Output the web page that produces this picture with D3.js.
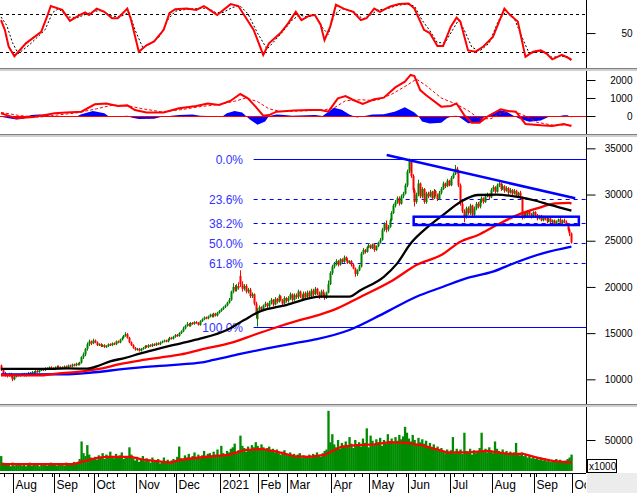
<!DOCTYPE html>
<html>
<head>
<meta charset="utf-8">
<script src="https://cdn.jsdelivr.net/npm/d3@7.9.0/dist/d3.min.js"></script>
<style>
  body { margin: 0; background: #fff; }
  svg { display: block; }
</style>
</head>
<body>
<svg id="chart" width="637" height="493"></svg>
<script>
// trading calendar (HOSE), first bar 23 Jul 2020
const startDate = '2020-07-23';
const holidays = ['2020-09-02', '2021-01-01', '2021-02-10', '2021-02-11', '2021-02-12', '2021-02-15',
  '2021-02-16', '2021-04-21', '2021-04-30', '2021-05-03', '2021-09-02', '2021-09-03'];
const monthNames = ['Jan', 'Feb', 'Mar', 'Apr', 'May', 'Jun', 'Jul', 'Aug', 'Sep', 'Oct', 'Nov', 'Dec'];

// daily candles, price in hundreds
const opens = [
  115,110,106,105,104,106,103,100,103,105, 104,105,106,104,106,107,106,108,107,109,
  108,110,111,110,112,111,113,112,111,113, 114,112,113,112,114,113,115,114,116,115,
  117,116,118,124,127,133,138,141,139,142, 140,137,138,136,137,135,136,138,137,139,
  138,141,140,143,145,147,149,145,140,137, 134,132,133,131,133,134,136,135,137,136,
  138,137,139,138,140,141,142,141,143,145, 144,146,148,147,150,152,155,158,160,158,
  161,160,162,161,159,163,165,167,166,168, 170,168,171,169,172,174,176,178,180,183,
  186,195,200,197,201,212,203,198,201,195, 197,190,192,182,165,175,178,176,180,182,
  179,183,186,181,187,184,190,186,182,188, 185,188,192,186,191,189,195,190,187,193,
  189,194,190,196,192,198,193,189,195,191, 188,194,203,215,222,225,228,224,230,227,
  232,229,226,228,224,220,214,218,222,236, 240,238,243,245,242,246,240,244,248,251,
  262,268,262,265,272,280,288,292,296,290, 298,301,310,325,336,320,305,292,300,312,
  298,306,292,301,298,303,296,304,300,295, 302,306,312,309,315,310,318,322,328,325,
  310,290,282,276,285,280,288,278,285,290, 287,293,296,292,298,300,297,305,308,303,
  310,312,306,309,304,307,302,305,301,304, 299,302,297,275,280,277,282,279,276,281,
  278,274,277,272,276,273,271,274,270,272, 268,271,273,269,272,270,268,262,258
];
const highs = [
  116,111,108,106,107,107,104,104,106,106, 106,107,107,107,108,108,109,109,110,110,
  111,112,112,113,113,114,114,113,114,115, 115,114,114,115,115,116,116,117,117,118,
  118,119,125,129,134,140,143,142,144,143, 141,139,139,138,138,137,139,139,140,140,
  142,142,144,146,148,151,150,146,141,138, 135,134,134,134,135,137,137,138,138,139,
  139,140,140,141,142,143,143,144,146,146, 147,149,149,151,153,157,159,162,161,162,
  162,163,163,162,164,166,168,168,169,171, 171,172,172,173,175,177,179,181,184,188,
  196,204,202,203,205,218,206,203,203,199, 199,194,193,184,177,180,179,181,184,183,
  185,188,187,189,188,192,191,187,190,189, 190,194,193,193,193,197,196,192,195,195,
  196,196,198,198,200,199,195,197,197,193, 195,207,217,224,227,230,229,231,231,234,
  233,231,229,229,225,221,219,224,238,242, 241,244,247,246,247,247,245,249,253,264,
  270,272,267,274,282,290,294,298,298,300, 303,312,327,339,337,322,307,302,316,313,
  308,307,303,303,305,304,306,305,301,304, 308,314,313,317,316,320,324,332,330,326,
  312,292,284,287,287,290,289,287,292,292, 295,298,297,300,302,301,307,310,309,312,
  314,313,311,310,309,308,307,306,306,305, 303,304,298,281,281,283,283,280,282,282,
  279,278,278,277,277,275,275,275,273,273, 272,274,275,273,274,272,269,264,259
];
const lows = [
  109,105,103,102,103,102,98,99,102,103, 103,104,103,103,105,105,105,106,106,107,
  107,109,109,109,110,110,111,110,110,112, 111,111,111,111,112,112,113,113,114,114,
  115,115,117,122,125,131,136,137,138,139, 136,136,135,135,134,134,135,136,136,137,
  137,139,139,142,144,146,144,139,136,133, 131,131,130,130,132,133,134,134,135,135,
  136,136,137,137,139,140,140,140,142,143, 143,145,146,146,149,151,154,157,157,157,
  159,159,160,158,158,162,164,165,165,167, 167,167,168,168,171,173,175,177,179,182,
  185,193,195,195,197,200,195,196,193,193, 188,188,180,166,157,173,174,175,178,177,
  177,181,179,180,182,183,185,180,181,183, 183,186,184,185,187,187,188,185,186,187,
  187,188,189,190,191,191,187,188,189,186, 187,193,202,213,220,223,222,223,226,226,
  228,225,225,222,219,211,212,217,221,235, 236,237,242,241,241,238,239,243,247,250,
  260,259,260,264,271,279,286,290,288,289, 296,300,308,323,318,302,287,290,298,296,
  296,290,290,296,297,294,295,298,293,294, 300,305,307,308,309,309,317,321,323,308,
  288,280,270,274,278,278,276,276,283,285, 285,291,290,291,297,295,296,303,301,302,
  308,304,305,302,303,300,301,299,300,297, 298,295,273,274,275,276,277,274,275,276,
  272,273,271,271,272,269,270,269,269,267, 267,270,268,268,269,267,260,255,247
];
const closes = [
  110,106,105,104,106,103,100,103,105,104, 105,106,104,106,107,106,108,107,109,108,
  110,111,110,112,111,113,112,111,113,114, 112,113,112,114,113,115,114,116,115,117,
  116,118,124,127,133,138,141,139,142,140, 137,138,136,137,135,136,138,137,139,138,
  141,140,143,145,147,149,145,140,137,134, 132,133,131,133,134,136,135,137,136,138,
  137,139,138,140,141,142,141,143,145,144, 146,148,147,150,152,155,158,160,158,161,
  160,162,161,159,163,165,167,166,168,170, 168,171,169,172,174,176,178,180,183,186,
  195,200,197,201,199,203,198,201,195,197, 190,192,182,172,175,178,176,180,182,179,
  183,186,181,187,184,190,186,182,188,185, 188,192,186,191,189,195,190,187,193,189,
  194,190,196,192,198,193,189,195,191,188, 194,203,215,222,225,228,224,230,227,232,
  229,226,228,224,220,214,218,222,236,240, 238,243,245,242,246,240,244,248,251,262,
  268,262,265,272,280,288,292,296,290,298, 301,310,325,336,320,305,292,300,312,298,
  306,292,301,298,303,296,304,300,295,302, 306,312,309,315,310,318,322,328,325,310,
  290,282,276,285,280,288,278,285,290,287, 293,296,292,298,300,297,305,308,303,310,
  312,306,309,304,307,302,305,301,304,299, 302,297,275,280,277,282,279,276,281,278,
  274,277,272,276,273,271,274,270,272,268, 271,273,269,272,270,268,262,258,248
];
// volume, thousands of shares
const volumes = [
  28,19,17,16,18,14,19,15,17,16, 18,15,17,14,16,19,15,17,16,18,
  14,17,16,18,15,17,19,16,18,15, 17,16,18,15,19,17,16,18,20,17,
  19,24,48,32,28,43,30,26,24,27, 23,29,26,32,24,30,27,34,28,25,
  31,26,29,33,24,28,27,40,30,25, 22,27,20,24,28,21,25,23,19,26,
  20,22,24,18,21,26,19,23,20,22, 24,21,27,41,25,23,29,26,31,24,
  28,33,26,30,25,29,35,27,31,32, 28,34,30,37,29,42,32,28,35,33,
  38,40,45,32,36,56,42,39,34,41, 37,43,40,47,42,38,44,40,36,39,
  41,35,38,33,37,32,30,34,36,31, 29,33,28,31,27,30,32,26,29,28,
  27,30,26,31,28,33,29,27,32,35, 37,90,47,58,44,40,50,38,46,42,
  48,41,54,45,39,50,43,47,41,52, 46,66,40,56,49,44,51,47,53,42,
  50,45,58,48,52,46,54,49,57,51, 55,68,60,52,48,57,50,44,53,47,
  51,45,49,42,46,40,44,38,41,36, 39,35,32,37,33,36,54,32,38,34,
  37,31,60,35,33,38,30,36,32,34, 39,60,35,38,33,40,36,32,48,38,
  35,33,37,31,35,32,34,30,33,46, 31,29,33,28,30,26,29,25,28,24,
  27,23,26,22,25,21,24,20,23,22, 24,20,23,21,19,22,24,26,30
];

// moving averages: [bar index, price in hundreds]
const maBlack = [[0,111.2],[25,111.3],[35,111.8],[45,111.5],[52,115.5],[57,119.5],[64,122.7],[73,128.1],
  [83,133.5],[94,139],[104,144],[118,153.4],[127,164.2],[135,173.2],[149,180.4],[167,189.4],[182,189.5],
  [188,196.7],[200,211],[207,225.5],[214,247],[223,265],[231,278],[240,292],[249,299.5],[259,300],
  [270,297.5],[280,293],[287,288.7],[298,282.5]];
const maRed = [[0,104.4],[20,104.2],[28,106],[40,108],[52,111.5],[62,116.5],[73,120.5],[83,123.5],
  [94,127],[104,132],[121,140],[132,148],[142,155],[156,164],[167,170.3],[176,177],[188,189.4],
  [205,207.5],[217,223.7],[230,234.5],[240,249],[249,256],[259,267],[270,278],[280,285],[290,290.5],
  [297,291],[298,290]];
const maBlue = [[0,105.4],[35,105.5],[43,106.5],[52,108.2],[62,110.8],[73,113],[83,114.5],[94,116.2],
  [104,118],[111,121],[125,127.5],[139,133.5],[153,139],[165,143.5],[182,153.4],[200,171.4],
  [217,189.4],[231,200.2],[243,209.3],[257,216.5],[270,227.3],[283,236.3],[298,243.5]];

// fibonacci retracement, trend line and box
const fibLevels = [0, 23.6, 38.2, 50, 61.8, 100];
const fibHigh = 338, fibLow = 157, fibStart = 132;
const trendLine = [[201.5, 342.8], [300, 295.9]];
const boxBars = [215.6, 301.9], boxPrices = [276, 267];

// stochastic %K / %D
const stochK = [[0,70],[2,55],[4,29],[7,14],[13,34],[21,52],[24,75],[26,92],[32,86],[36,69],[41,78],[44,82],
  [46,78],[50,88],[54,83],[58,73],[61,73],[66,88],[68,70],[72,21],[76,31],[80,37],[85,55],[88,81],[91,87],
  [97,88],[102,86],[106,92],[109,86],[113,78],[115,83],[120,95],[124,92],[127,78],[132,55],[137,16],
  [140,34],[146,50],[150,65],[154,83],[157,70],[161,77],[164,78],[167,63],[169,39],[172,60],[175,94],
  [179,88],[184,83],[188,70],[191,73],[195,88],[198,83],[203,91],[208,95],[213,96],[216,88],[221,55],
  [224,50],[228,30],[231,30],[235,60],[238,74],[240,68],[244,23],[248,21],[252,29],[257,44],[263,88],
  [266,78],[270,68],[274,13],[278,21],[282,23],[285,18],[288,9],[293,16],[296,12],[298,8]];
const stochD = [[0,75],[3,62],[6,35],[9,18],[15,32],[23,55],[27,82],[30,88],[35,75],[40,74],[45,80],[49,84],
  [53,85],[57,77],[62,75],[67,82],[70,55],[74,28],[78,33],[83,45],[87,70],[91,84],[97,87],[103,88],
  [108,89],[112,82],[116,82],[121,90],[125,92],[129,80],[134,50],[139,25],[143,38],[148,55],[152,70],
  [156,78],[160,75],[164,78],[168,58],[171,48],[174,78],[178,88],[184,84],[189,72],[193,78],[197,86],
  [202,88],[207,93],[212,95],[216,92],[220,70],[224,54],[228,35],[232,35],[236,55],[239,70],[242,55],
  [246,28],[250,22],[255,34],[260,70],[264,84],[268,74],[272,45],[276,18],[280,21],[284,20],[288,12],
  [292,14],[296,13],[298,10]];

// MACD, signal, histogram
const macd = [[0,150],[3,50],[8,-130],[17,-60],[23,50],[28,150],[34,190],[42,240],[49,650],[55,700],
  [61,555],[66,590],[70,330],[76,190],[85,200],[93,425],[102,555],[108,700],[114,610],[120,850],
  [125,1220],[129,980],[133,520],[137,20],[140,50],[144,240],[153,300],[161,330],[167,330],[171,240],
  [176,980],[180,1110],[184,890],[189,670],[195,930],[200,1020],[206,1590],[211,1910],[214,2280],
  [216,2220],[219,1440],[222,1170],[230,520],[235,555],[238,700],[242,50],[246,-370],[250,-370],
  [254,-40],[261,370],[265,280],[269,240],[274,-440],[282,-520],[288,-560],[294,-440],[298,-560]];
const macdSignal = [[0,200],[10,20],[20,-60],[30,60],[40,180],[50,400],[58,600],[66,580],[74,400],
  [84,230],[94,350],[104,520],[114,640],[122,820],[128,1000],[134,800],[140,400],[146,250],[156,280],
  [168,320],[174,450],[180,850],[188,900],[196,860],[204,1200],[212,1700],[217,2050],[222,1700],
  [230,1000],[238,650],[244,300],[250,-150],[256,-150],[262,200],[268,260],[274,0],[280,-350],
  [288,-500],[298,-500]];
const macdHist = [[0,-40],[4,-120],[8,-200],[12,-150],[14,0],[16,60],[20,80],[24,60],[26,0],[40,0],
  [42,100],[48,280],[54,150],[56,0],[58,-60],[62,-30],[64,0],[66,20],[68,-80],[72,-160],[80,-150],
  [84,-40],[88,0],[93,60],[100,80],[104,20],[108,0],[112,-30],[116,0],[118,150],[122,280],[126,200],
  [128,0],[130,-200],[134,-480],[138,-300],[140,0],[144,80],[148,50],[152,20],[160,40],[164,60],
  [168,0],[170,150],[174,460],[178,350],[182,80],[186,-80],[188,-30],[190,0],[194,80],[200,100],
  [206,250],[211,480],[216,200],[218,0],[220,-300],[224,-420],[230,-380],[233,-120],[236,0],[238,20],
  [240,-100],[244,-400],[250,-380],[252,-100],[254,0],[256,120],[260,330],[264,250],[268,0],[271,-150],
  [276,-320],[282,-250],[286,-50],[288,0],[292,0],[294,40],[296,40],[298,-80]];

// volume moving average
const volMA = [[0,17],[38,17],[42,20],[51,26],[55,27],[68,27],[74,23],[85,20],[89,19],[93,22.6],
  [106,26.7],[119,29.5],[127,36],[136,37.7],[144,34],[153,28],[161,27],[169,29.5],[178,41],[186,43],
  [195,44],[203,47],[212,46],[220,42.7],[229,36],[233,33],[244,33],[254,35],[265,31],[273,31],
  [280,26],[288,21.5],[298,19]];

// ---------------------------------------------------------------
const W = 637, H = 493, axisX = 586;
const font = '"Liberation Sans", Arial, sans-serif';
const svg = d3.select('#chart');

const fmt = d3.timeFormat('%Y-%m-%d');
function tradingDays(start, n) {
  const out = [];
  const d = new Date(start + 'T00:00:00');
  while (out.length < n) {
    const wd = d.getDay();
    if (wd !== 0 && wd !== 6 && !holidays.includes(fmt(d))) out.push(new Date(d));
    d.setDate(d.getDate() + 1);
  }
  return out;
}
// one extra day so the last month boundary gets its tick
const days = tradingDays(startDate, closes.length + 1);

const x = d3.scaleLinear().domain([0, days.length - 1]).range([1, 573.3]);
const step = x(1) - x(0);
const yStoch = d3.scaleLinear().domain([0, 100]).range([65.2, 0.9]);
const yMacd = d3.scaleLinear().domain([-1000, 2500]).range([134, 71]);
const yPrice = d3.scaleLinear().domain([80, 360]).range([397.8, 139.1]);
const yVol = d3.scaleLinear().domain([0, 100]).range([476.5, 403.5]);

svg.append('rect').attr('width', W).attr('height', H).attr('fill', '#fff');
svg.append('rect').attr('x', 587).attr('y', 473).attr('width', 50).attr('height', 20).attr('fill', '#ececec');

function panel(id, y0, y1) {
  svg.append('clipPath').attr('id', id).append('rect')
    .attr('x', 0).attr('y', y0).attr('width', axisX).attr('height', y1 - y0);
  return svg.append('g').attr('clip-path', `url(#${id})`);
}
const lineOf = (y, curve) => d3.line().x(d => x(d[0])).y(d => y(d[1])).curve(curve || d3.curveLinear);
const crisp = v => Math.round(v) + 0.5;

// --- stochastic
const gS = panel('clip-s', 0, 68);
[80, 20].forEach(v => {
  gS.append('line').attr('x1', 0).attr('x2', axisX)
    .attr('y1', crisp(yStoch(v))).attr('y2', crisp(yStoch(v)))
    .attr('stroke', '#000').attr('stroke-dasharray', '3,3');
});
gS.append('path').datum(stochD).attr('d', lineOf(yStoch))
  .attr('fill', 'none').attr('stroke', '#000').attr('stroke-width', 1).attr('stroke-dasharray', '2,2');
gS.append('path').datum(stochK).attr('d', lineOf(yStoch))
  .attr('fill', 'none').attr('stroke', '#ff0000').attr('stroke-width', 2);

// --- MACD
const gM = panel('clip-m', 71, 134);
gM.append('path').datum(macdHist)
  .attr('d', d3.area().x(d => x(d[0])).y0(yMacd(0)).y1(d => yMacd(d[1])))
  .attr('fill', '#0000ff');
gM.append('line').attr('x1', 0).attr('x2', axisX)
  .attr('y1', crisp(yMacd(0))).attr('y2', crisp(yMacd(0))).attr('stroke', '#ff0000');
gM.append('path').datum(macdSignal).attr('d', lineOf(yMacd))
  .attr('fill', 'none').attr('stroke', '#ff0000').attr('stroke-width', 1).attr('stroke-dasharray', '3,2');
gM.append('path').datum(macd).attr('d', lineOf(yMacd))
  .attr('fill', 'none').attr('stroke', '#ff0000').attr('stroke-width', 2);

// --- price
const gP = panel('clip-p', 137, 404);
const fibRange = fibHigh - fibLow;
fibLevels.forEach(f => {
  const yy = crisp(yPrice(fibHigh - fibRange * f / 100));
  gP.append('line').attr('x1', x(fibStart)).attr('x2', axisX).attr('y1', yy).attr('y2', yy)
    .attr('stroke', '#0000ff').attr('stroke-width', 1)
    .attr('stroke-dasharray', (f === 0 || f === 100) ? null : '4,4');
  gP.append('text').attr('x', 243).attr('y', yy + 4.5).attr('text-anchor', 'end')
    .attr('font-family', font).attr('font-size', 12).attr('fill', '#3333ff')
    .text(f.toFixed(1) + '%');
});

const bars = closes.map((c, i) => ({ i, o: opens[i], h: highs[i], l: lows[i], c }));
const candle = gP.append('g').selectAll('g').data(bars).join('g')
  .attr('stroke', d => d.c >= d.o ? '#008000' : '#ff0000')
  .attr('fill', d => d.c >= d.o ? '#008000' : '#ff0000');
candle.append('line')
  .attr('x1', d => Math.round(x(d.i)) + 0.5).attr('x2', d => Math.round(x(d.i)) + 0.5)
  .attr('y1', d => yPrice(d.h)).attr('y2', d => yPrice(d.l)).attr('stroke-width', 1);
candle.append('rect')
  .attr('x', d => Math.round(x(d.i)) - 0.5).attr('width', 2)
  .attr('y', d => yPrice(Math.max(d.o, d.c)))
  .attr('height', d => Math.max(1.2, Math.abs(yPrice(d.o) - yPrice(d.c))))
  .attr('stroke', 'none');

[[maBlue, '#0000ff'], [maRed, '#ff0000'], [maBlack, '#000000']].forEach(([data, col]) => {
  gP.append('path').datum(data).attr('d', lineOf(yPrice, d3.curveMonotoneX))
    .attr('fill', 'none').attr('stroke', col).attr('stroke-width', 2.3);
});

gP.append('path').datum(trendLine).attr('d', lineOf(yPrice))
  .attr('fill', 'none').attr('stroke', '#0000ff').attr('stroke-width', 2.5);
gP.append('rect')
  .attr('x', x(boxBars[0])).attr('width', x(boxBars[1]) - x(boxBars[0]))
  .attr('y', yPrice(boxPrices[0])).attr('height', yPrice(boxPrices[1]) - yPrice(boxPrices[0]))
  .attr('fill', 'none').attr('stroke', '#0000ff').attr('stroke-width', 2.5);

// --- volume
const gV = panel('clip-v', 407, 471);
gV.append('g').selectAll('rect').data(volumes).join('rect')
  .attr('x', (d, i) => x(i) - step / 2).attr('width', step + 0.4)
  .attr('y', d => yVol(d)).attr('height', d => yVol(0) - yVol(d))
  .attr('fill', '#008c00');
gV.append('path').datum(volMA).attr('d', lineOf(yVol))
  .attr('fill', 'none').attr('stroke', '#ff0000').attr('stroke-width', 2.3);

// --- right axes
function rightAxis(scale, minor, major, fmtLabel, y0, y1) {
  const g = svg.append('g').attr('transform', `translate(${axisX + 0.5},0)`)
    .attr('font-family', font).attr('font-size', 12);
  g.call(d3.axisRight(scale).tickValues(minor.filter(v => scale(v) >= y0 && scale(v) <= y1))
    .tickSize(5).tickSizeOuter(0).tickFormat(''));
  g.call(d3.axisRight(scale).tickValues(major.filter(v => scale(v) >= y0 && scale(v) <= y1))
    .tickSize(9).tickSizeOuter(0).tickFormat(fmtLabel));
  g.selectAll('.domain').remove();
  g.selectAll('text').attr('x', 46).attr('text-anchor', 'end').attr('fill', '#000');
  g.selectAll('line').attr('stroke', '#000');
}
rightAxis(yStoch, d3.range(0, 101, 10), [50], d => d, 0, 66);
rightAxis(yMacd, d3.range(-1000, 2501, 500), [0, 1000, 2000], d => d, 71, 134);
rightAxis(yPrice, d3.range(90, 361, 10), [100, 150, 200, 250, 300, 350], d => d * 100, 138, 403);
rightAxis(yVol, d3.range(10, 91, 10), [50], d => d * 1000, 407, 471);

svg.append('line').attr('x1', axisX + 0.5).attr('x2', axisX + 0.5).attr('y1', 0).attr('y2', 473)
  .attr('stroke', '#000');

// --- panel separators
[67.5, 134, 404].forEach(y => {
  svg.append('rect').attr('x', 0).attr('y', Math.round(y)).attr('width', W).attr('height', 1).attr('fill', '#7f7f7f');
  svg.append('rect').attr('x', 0).attr('y', Math.round(y) + 1).attr('width', W).attr('height', 2).attr('fill', '#cfcfcf');
});

// --- volume unit box
svg.append('rect').attr('x', 587.5).attr('y', 459.5).attr('width', 29).attr('height', 13)
  .attr('fill', '#fff').attr('stroke', '#000');
svg.append('text').attr('x', 589).attr('y', 470).attr('font-family', font).attr('font-size', 10)
  .text('x1000');

// --- date axis
const gD = panel('clip-d', 473, 493);
svg.append('line').attr('x1', 0).attr('x2', axisX).attr('y1', 473.5).attr('y2', 473.5).attr('stroke', '#000');
days.forEach((d, i) => {
  const xx = Math.round(x(i) - step / 2) + 0.5;
  const prev = days[i - 1];
  if (prev && prev.getMonth() !== d.getMonth()) {
    gD.append('line').attr('x1', xx).attr('x2', xx).attr('y1', 473).attr('y2', 493).attr('stroke', '#000');
    gD.append('text').attr('x', xx + 2).attr('y', 489)
      .attr('font-family', font).attr('font-size', 12).attr('fill', '#000')
      .text(d.getMonth() === 0 ? d.getFullYear() : monthNames[d.getMonth()]);
  } else if (d.getDay() === 1) {
    gD.append('line').attr('x1', xx).attr('x2', xx).attr('y1', 473).attr('y2', 477).attr('stroke', '#000');
  }
});
</script>
</body>
</html>
